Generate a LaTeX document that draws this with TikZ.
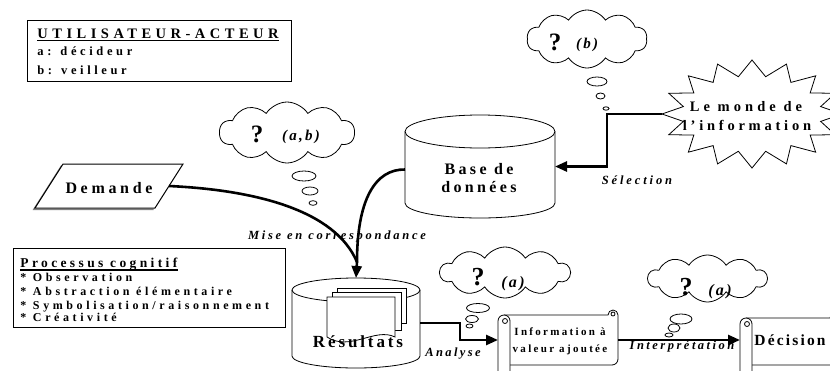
\documentclass[tikz,border=0pt]{standalone}
\usepackage{fontspec}
\setmainfont{Liberation Serif}
\usetikzlibrary{shapes.symbols,arrows.meta}
\newcommand\lsp[2]{{\addfontfeatures{LetterSpace=#1}#2}}
\newcommand\fsz[1]{\fontsize{#1}{#1}\selectfont}
\begin{document}
\begin{tikzpicture}[x=1pt,y=-1pt,
  line width=0.8pt,
  txt/.style={inner sep=0pt, anchor=base},
  lbl/.style={inner sep=0pt, anchor=base, font=\bfseries\itshape\fsz{12.5}},
  conn/.style={line width=2.6pt},
  arr/.style={conn, -{Triangle[length=12pt,width=10pt]}},
  thought/.style={cloud, cloud puffs=10, cloud puff arc=115, draw, line width=0.8pt, inner sep=0pt},
  frame/.style={draw, line width=0.9pt, inner sep=0pt},
  hold/.style={inner sep=0pt, outer sep=0pt, draw=none}
]
\useasboundingbox (0,0) rectangle (830,370);

% ---- UTILISATEUR-ACTEUR box
\node[frame, minimum width=264, minimum height=61] (utbox) at (159,50.5) {};
\node[txt, anchor=base west, font=\bfseries\fsz{14.5}] (uttitle) at (37,38) {\lsp{31}{UTILISATEUR-ACTEUR}};
\draw[line width=1.4pt] ([yshift=-2.5pt]uttitle.base west) -- ([yshift=-2.5pt]uttitle.base east);
\node[txt, anchor=base west, font=\bfseries\fsz{12.5}] (uta) at (37,55) {\lsp{29}{a: décideur}};
\node[txt, anchor=base west, font=\bfseries\fsz{12.5}] (utb) at (37,74) {\lsp{29}{b: veilleur}};

% ---- Processus cognitif box
\node[frame, minimum width=272, minimum height=79] (pcbox) at (149,287.5) {};
\node[txt, anchor=base west, font=\bfseries\fsz{13.5}] (pctitle) at (20,267) {\lsp{25}{Processus cognitif}};
\draw[line width=1.2pt] ([yshift=-3pt]pctitle.base west) -- ([yshift=-3pt]pctitle.base east);
\node[txt, anchor=base west, font=\bfseries\fsz{12}] (pc1) at (20,281.7) {\lsp{30}{* Observation}};
\node[txt, anchor=base west, font=\bfseries\fsz{12}] (pc2) at (20,295.7) {\lsp{30}{* Abstraction élémentaire}};
\node[txt, anchor=base west, font=\bfseries\fsz{12}] (pc3) at (20,309.3) {\lsp{30}{* Symbolisation/raisonnement}};
\node[txt, anchor=base west, font=\bfseries\fsz{12}] (pc4) at (20,321.7) {\lsp{30}{* Créativité}};

% ---- Demande
\draw[gray, line width=1pt] (61.5,165.5) -- (33.5,209.5) -- (153.5,209.5);
\draw[line width=1pt] (63,164) -- (183,164) -- (155,208) -- (35,208) -- cycle;
\node[txt, font=\bfseries\fsz{16}] (dem) at (109,193) {\lsp{23}{Demande}};
\coordinate (demE) at (169,186);

% ---- Base de donnees
\node[hold, minimum width=150, minimum height=103] (bdd) at (480,166.5) {};
\draw (480,131.5) ellipse [x radius=75, y radius=16.5];
\draw (405,131.5) -- (405,203) arc[start angle=180, end angle=0, x radius=75, y radius=15] -- (555,131.5);
\node[txt, font=\bfseries\fsz{16}] (bddt1) at (479,174) {\lsp{21}{Base de}};
\node[txt, font=\bfseries\fsz{16}] (bddt2) at (479,192.7) {\lsp{21}{données}};

% ---- Resultats
\node[hold, minimum width=128, minimum height=90] (res) at (356,323) {};
\draw (356,290) ellipse [x radius=64, y radius=12];
\draw (292,290) -- (292,356) arc[start angle=180, end angle=0, x radius=64, y radius=12] -- (420,290);
\draw[fill=white] (337,288) rectangle (406,323);
\draw[fill=white] (332,292) rectangle (401,330);
\draw[fill=white] (327,297) -- (395,297) -- (395,337) .. controls (375,327) and (350,352) .. (327,337) -- cycle;
\node[txt, font=\bfseries\fsz{17}] (rest) at (358,347.3) {\lsp{17}{Résultats}};

% ---- Le monde de l'information
\draw[line width=0.8pt, fill=white] plot[samples at={0,...,31}]
  ({752+(90-20*mod(\x,2))*cos(180+\x*11.25)}, {114+(54-16*mod(\x,2))*sin(180+\x*11.25)}) -- cycle;
\coordinate (monW) at (662,114);
\node[txt, font=\bfseries\fsz{14.5}] (monde1) at (746,111) {\lsp{28}{Le monde de}};
\node[txt, font=\bfseries\fsz{14.5}] (monde2) at (747,130) {\lsp{26}{l’information}};

% ---- scrolls
\node[hold, minimum width=120, minimum height=50] (info) at (558,340) {};
\node[hold, minimum width=120, minimum height=50] (dec) at (800,340) {};
\foreach \ox/\oy/\W/\H in {498/313/120/52, 740/316/100/49}{
  \begin{scope}[shift={(\ox,\oy)}]
    \draw[fill=white] (6,2) -- (\W-10,2) arc[start angle=180, end angle=360, radius=5]
       -- (\W,\H-6) arc[start angle=0, end angle=90, radius=6] -- (10,\H);
    \draw (\W-5,1) circle [radius=2];
    \draw[fill=white] (0,62) -- (0,8) arc[start angle=180, end angle=360, radius=6] -- (12,62);
    \draw (7,8) circle [radius=2.5];
  \end{scope}
}
\node[txt, font=\bfseries\fsz{11}] (info1) at (560,335) {\lsp{21}{Information à}};
\node[txt, font=\bfseries\fsz{11}] (info2) at (560,352.7) {\lsp{21}{valeur ajoutée}};
\node[txt, font=\bfseries\fsz{15.5}] (dect) at (790,345) {\lsp{14}{Décision}};

% ---- connectors
\draw[arr] (monW) -- ++(-55,0) |- (bdd.east);
\node[lbl] (sel) at (637,184) {\lsp{23}{Sélection}};

\coordinate (join) at (357,262);
\draw[conn] (demE) .. controls (255,190) and (335,210) .. (join);
\draw[conn] ([yshift=-3pt]bdd.west) .. controls (375,169) and (357,200) .. (join);
\draw[arr] (join) -- (res.north);
\node[lbl] (mise) at (337,239.3) {\lsp{22}{Mise en correspondance}};

\draw[arr] (res.east) -- ++(40,0) |- (info.west);
\node[lbl] (ana) at (453,356.7) {\lsp{19}{Analyse}};

\draw[arr] (info.east) -- (dec.west);
\node[lbl] (interp) at (682,349.3) {\lsp{20}{Interprétation}};

% ---- thought clouds
\node[thought, minimum width=120, minimum height=58] (cb) at (587,39) {};
\node[txt, font=\bfseries\fsz{25}] (qb) at (555,50) {?};
\node[txt, font=\bfseries\itshape\fsz{15}] (lb) at (587,48) {\lsp{15}{(b)}};
\draw (597,81.5) ellipse [x radius=10, y radius=4.5];
\draw (600.5,96) ellipse [x radius=4.5, y radius=3];
\draw (606,108.5) ellipse [x radius=3, y radius=1.7];

\node[thought, minimum width=135, minimum height=61] (cab) at (287,132.5) {};
\node[txt, font=\bfseries\fsz{25}] (qab) at (257,142) {?};
\node[txt, font=\bfseries\itshape\fsz{15}] (lab) at (301,140) {\lsp{15}{(a,b)}};
\draw (304,176) ellipse [x radius=12, y radius=5];
\draw (310,191) ellipse [x radius=8, y radius=4];
\draw (313,203) ellipse [x radius=4, y radius=2.3];

\node[thought, minimum width=130, minimum height=51] (ca1) at (505,272.5) {};
\node[txt, font=\bfseries\fsz{26}] (qa1) at (478,285) {?};
\node[txt, font=\bfseries\itshape\fsz{16}] (la1) at (513,287) {\lsp{15}{(a)}};
\draw (478,308) ellipse [x radius=11.5, y radius=4.5];
\draw (472,319) ellipse [x radius=6.5, y radius=3.5];
\draw (469.5,326) ellipse [x radius=3.5, y radius=2];

\node[thought, minimum width=119, minimum height=47] (ca2) at (707.5,278.5) {};
\node[txt, font=\bfseries\fsz{26}] (qa2) at (686,295) {?};
\node[txt, font=\bfseries\itshape\fsz{16}] (la2) at (720,295) {\lsp{15}{(a)}};
\draw (681,319) ellipse [x radius=11, y radius=5];
\draw (674,328) ellipse [x radius=6, y radius=4];
\draw (669,335) ellipse [x radius=4, y radius=2];
\end{tikzpicture}
\end{document}
